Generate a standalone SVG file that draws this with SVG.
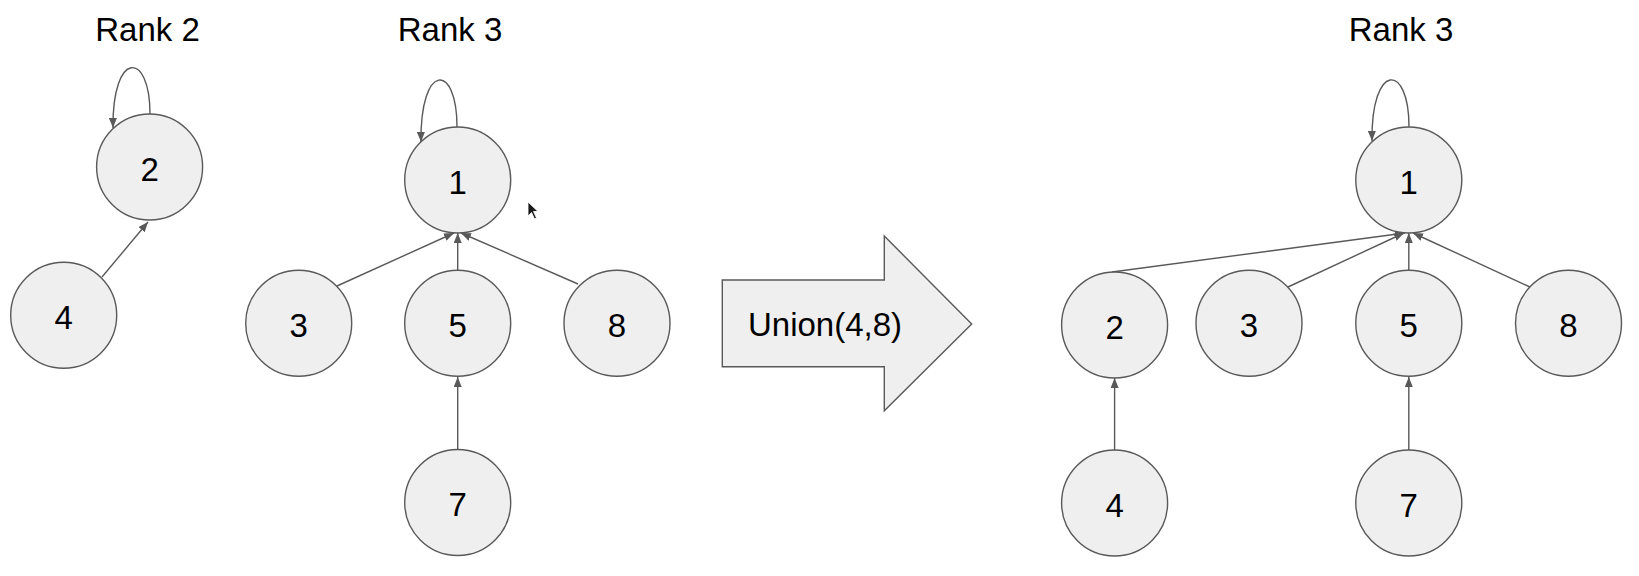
<svg xmlns="http://www.w3.org/2000/svg" width="1639" height="576" viewBox="0 0 1639 576">
  <style>
    .node ellipse { fill: #efefef; stroke: #595959; stroke-width: 1.4; }
    .node text, .label { font-family: "Liberation Sans", Arial, sans-serif; fill: #000; text-anchor: middle; }
    .node text { font-size: 33px; }
    .label { font-size: 33px; }
    .edge { fill: none; stroke: #595959; stroke-width: 1.4; marker-end: url(#arrow); }
  </style>
  <defs>
    <marker id="arrow" markerUnits="userSpaceOnUse" markerWidth="10" markerHeight="8" refX="10" refY="4" orient="auto">
      <path d="M0,0 L10,4 L0,8 z" fill="#595959"/>
    </marker>
  </defs>
  <rect width="1639" height="576" fill="#ffffff"/>

  <!-- titles -->
  <text class="label" x="147.5" y="41">Rank 2</text>
  <text class="label" x="450" y="41">Rank 3</text>
  <text class="label" x="1401" y="41">Rank 3</text>

  <!-- connectors -->
  <g id="connectors">
    <!-- left tree rooted at 2 -->
    <path class="edge" d="M150,114 C150,50 112,50 113,128"/>
    <path class="edge" d="M102,277 L148,222"/>
    <!-- left tree rooted at 1 -->
    <path class="edge" d="M457,127 C457,62 420,62 421,142"/>
    <path class="edge" d="M337,286 L454,233"/>
    <path class="edge" d="M457.7,270 L457.7,233"/>
    <path class="edge" d="M578,284 L461,233"/>
    <path class="edge" d="M457.7,449 L457.7,377"/>
    <!-- merged tree -->
    <path class="edge" d="M1409,127 C1409,62 1371,62 1372,141"/>
    <path class="edge" d="M1112,272 L1405,233"/>
    <path class="edge" d="M1288,287 L1404,233"/>
    <path class="edge" d="M1408.8,270 L1408.8,233"/>
    <path class="edge" d="M1530,287 L1413,233"/>
    <path class="edge" d="M1114.6,450 L1114.6,378"/>
    <path class="edge" d="M1408.8,450 L1408.8,377"/>
  </g>

  <!-- left: rank 2 tree -->
  <g id="node-L2" class="node"><ellipse cx="149.6" cy="167" rx="53" ry="53"/><text x="149.6" y="180.5">2</text></g>
  <g id="node-L4" class="node"><ellipse cx="63.7" cy="315.3" rx="53" ry="53"/><text x="63.7" y="328.8">4</text></g>

  <!-- left: rank 3 tree -->
  <g id="node-L1" class="node"><ellipse cx="457.7" cy="180" rx="53" ry="53"/><text x="457.7" y="193.5">1</text></g>
  <g id="node-L3" class="node"><ellipse cx="298.7" cy="323.3" rx="53" ry="53"/><text x="298.7" y="336.8">3</text></g>
  <g id="node-L5" class="node"><ellipse cx="457.7" cy="323.3" rx="53" ry="53"/><text x="457.7" y="336.8">5</text></g>
  <g id="node-L8" class="node"><ellipse cx="617" cy="323.3" rx="53" ry="53"/><text x="617" y="336.8">8</text></g>
  <g id="node-L7" class="node"><ellipse cx="457.7" cy="502.5" rx="53" ry="53"/><text x="457.7" y="516">7</text></g>

  <!-- operation arrow -->
  <g id="node-union" class="node">
    <path d="M722.3,280 L884.3,280 L884.3,236 L971.7,324 L884.3,410.7 L884.3,366.7 L722.3,366.7 Z" fill="#efefef" stroke="#595959" stroke-width="1.4"/>
    <text x="748" y="336" style="text-anchor:start;font-size:33px">Union(4,8)</text>
  </g>

  <!-- right: merged tree -->
  <g id="node-R1" class="node"><ellipse cx="1408.8" cy="180" rx="53" ry="53"/><text x="1408.8" y="193.5">1</text></g>
  <g id="node-R2" class="node"><ellipse cx="1114.6" cy="325" rx="53" ry="53"/><text x="1114.6" y="338.5">2</text></g>
  <g id="node-R3" class="node"><ellipse cx="1249" cy="323.3" rx="53" ry="53"/><text x="1249" y="336.8">3</text></g>
  <g id="node-R5" class="node"><ellipse cx="1408.8" cy="323.3" rx="53" ry="53"/><text x="1408.8" y="336.8">5</text></g>
  <g id="node-R8" class="node"><ellipse cx="1568.5" cy="323.3" rx="53" ry="53"/><text x="1568.5" y="336.8">8</text></g>
  <g id="node-R4" class="node"><ellipse cx="1114.6" cy="503" rx="53" ry="53"/><text x="1114.6" y="516.5">4</text></g>
  <g id="node-R7" class="node"><ellipse cx="1408.8" cy="503" rx="53" ry="53"/><text x="1408.8" y="516.5">7</text></g>

  <!-- mouse pointer -->
  <path d="M528,202 L528,216 L531.5,212.5 L534.5,219 L536.5,218 L533.5,211.5 L538,211.5 Z" fill="#1a1a1a" stroke="#ffffff" stroke-width="0.8"/>
</svg>
